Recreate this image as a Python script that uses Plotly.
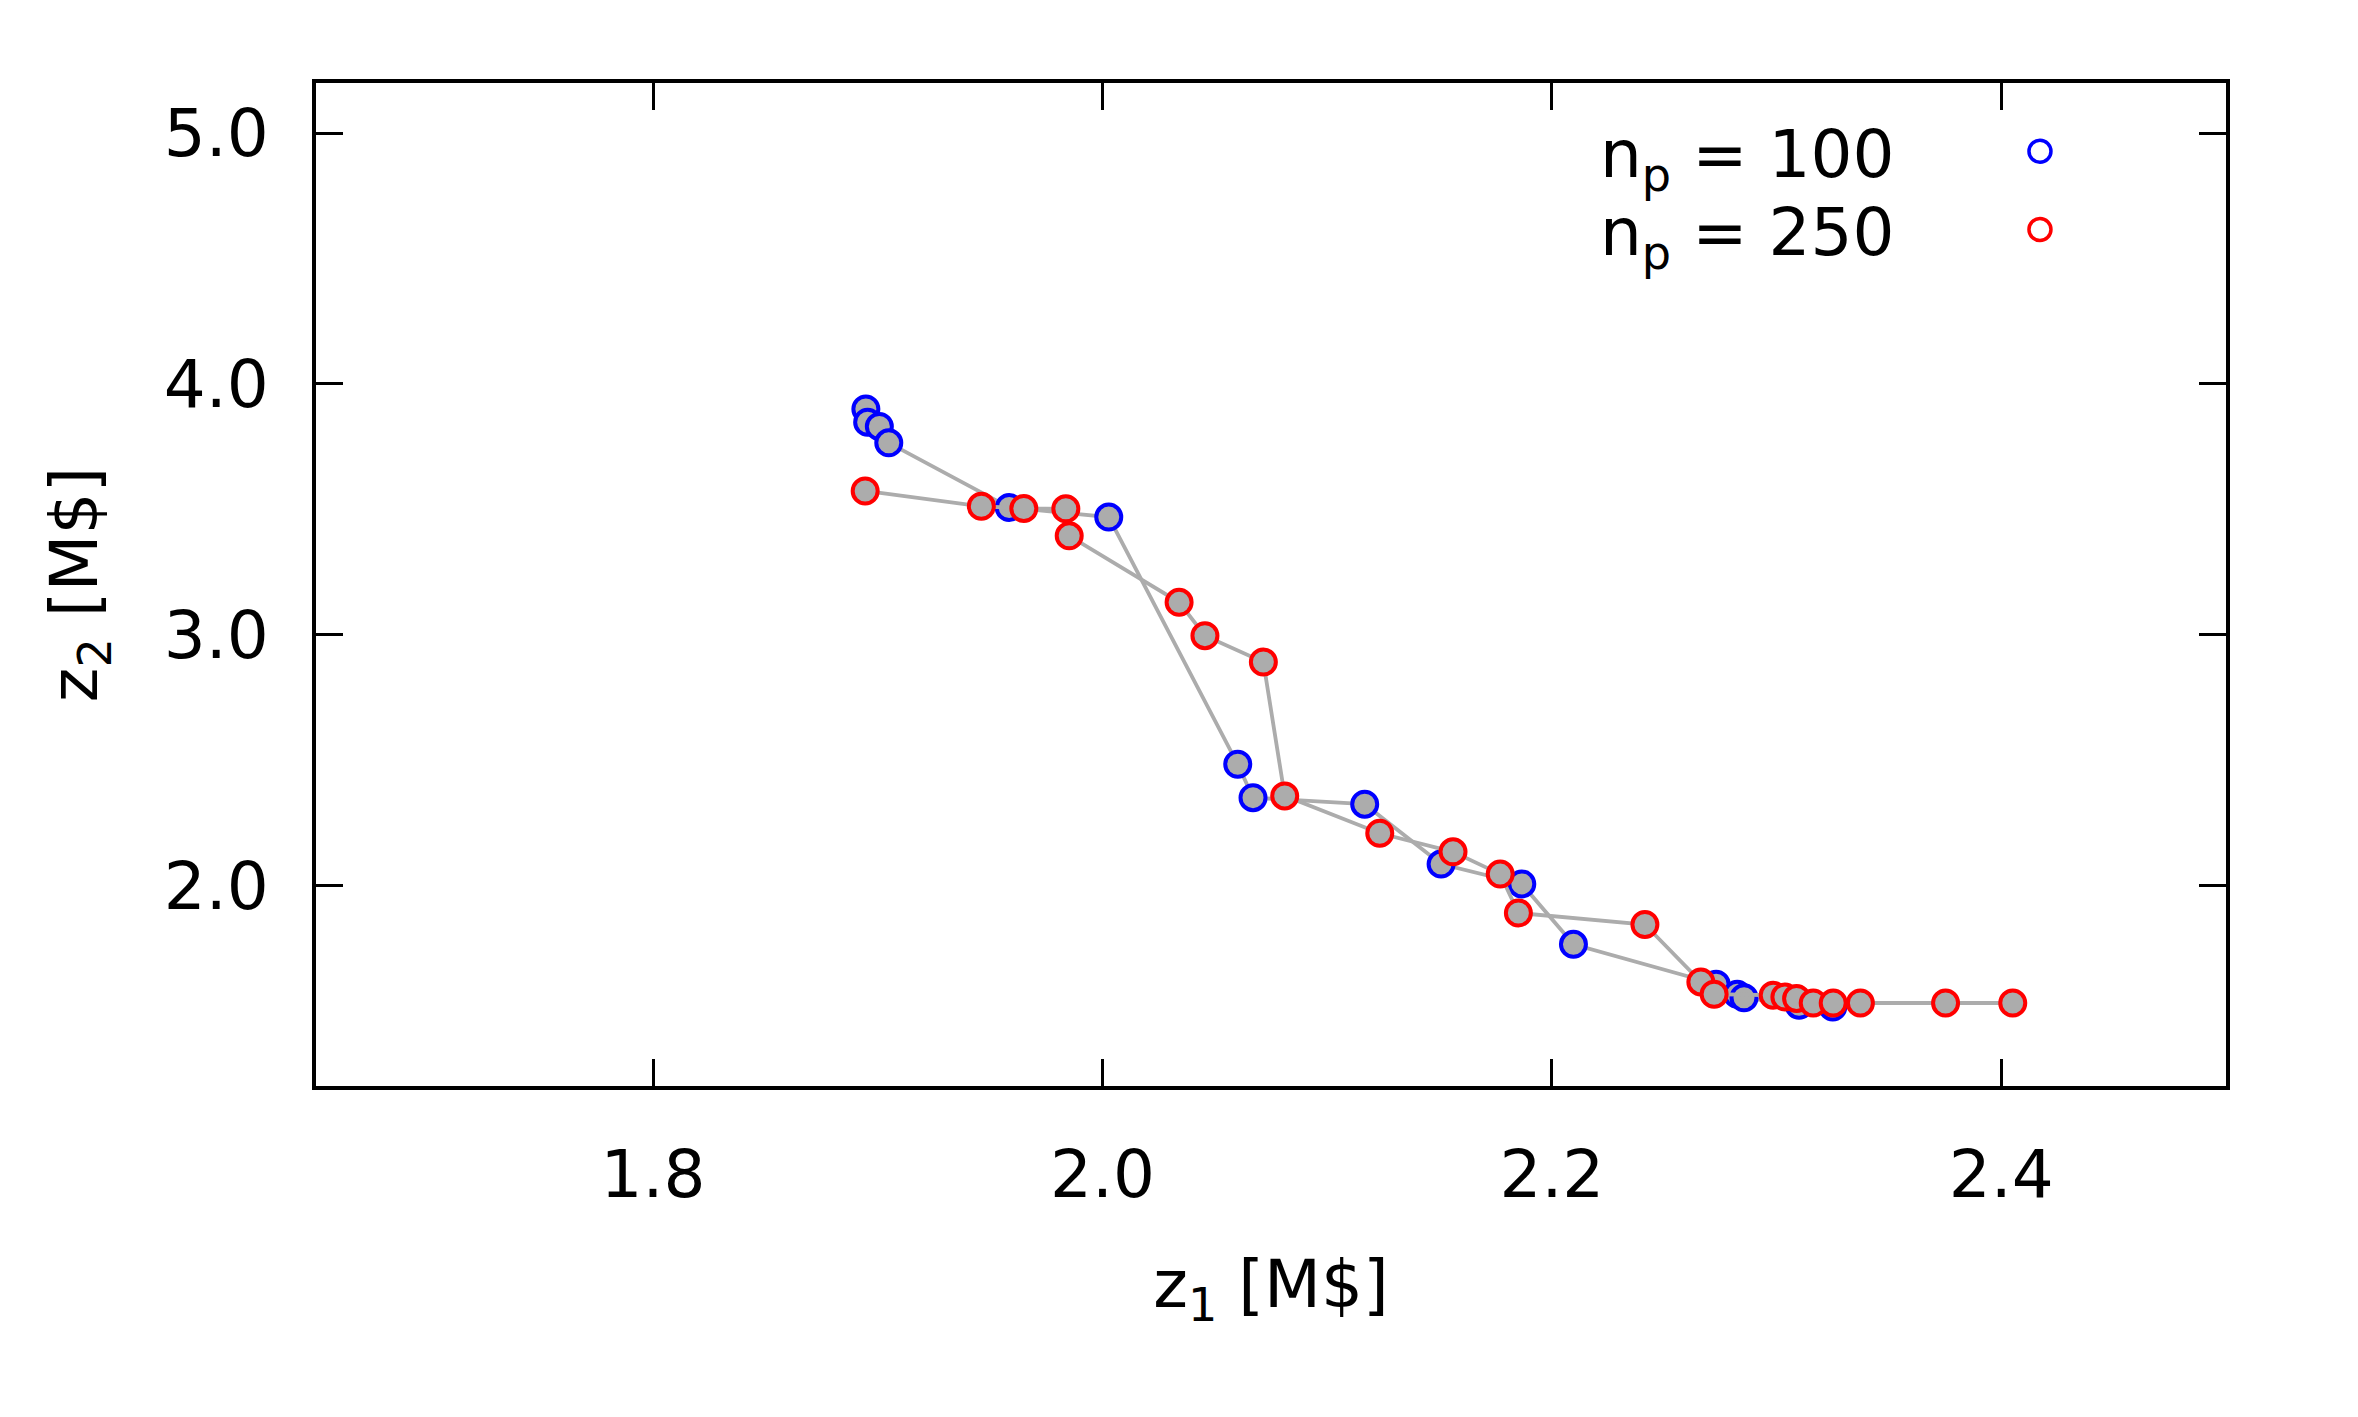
import plotly.graph_objects as go

# ---- data ----
blue_name = "n<sub>p</sub> = 100"
blue_x = [1.8947, 1.8955, 1.9007, 1.9049, 1.9585, 2.0028, 2.0602, 2.0670, 2.1167,
          2.1507, 2.1866, 2.2096, 2.2731, 2.2825, 2.2855, 2.3100, 2.3250]
blue_y = [3.900, 3.847, 3.830, 3.765, 3.507, 3.469, 2.483, 2.350, 2.324,
          2.085, 2.006, 1.765, 1.606, 1.566, 1.552, 1.522, 1.515]

red_name = "n<sub>p</sub> = 250"
red_x = [1.8944, 1.9461, 1.9650, 1.9837, 1.9852, 2.0341, 2.0456, 2.0716, 2.0811,
         2.1234, 2.1560, 2.1770, 2.1851, 2.2414, 2.2663, 2.2722, 2.2985, 2.3037,
         2.3089, 2.3163, 2.3252, 2.3373, 2.3752, 2.4051]
red_y = [3.573, 3.512, 3.503, 3.502, 3.394, 3.129, 2.996, 2.891, 2.357,
         2.208, 2.134, 2.045, 1.890, 1.844, 1.615, 1.566, 1.562, 1.555,
         1.549, 1.531, 1.531, 1.531, 1.531, 1.531]

x_tickvals = [1.8, 2.0, 2.2, 2.4]
x_ticktext = ["1.8", "2.0", "2.2", "2.4"]
y_tickvals = [2.0, 3.0, 4.0, 5.0]
y_ticktext = ["2.0", "3.0", "4.0", "5.0"]
x_range = [1.65, 2.5]
y_range = [1.2, 5.2]
x_title = "z<sub>1</sub> [M$]"
y_title = "z<sub>2</sub> [M$]"

# ---- style ----
FONT = "DejaVu Sans"
FS = 66
GRAY = "#acacac"
W, H = 2358, 1417

fig = go.Figure()
for xs, ys, col, name in [(blue_x, blue_y, "#0000ff", blue_name),
                          (red_x, red_y, "#ff0000", red_name)]:
    fig.add_trace(go.Scatter(
        x=xs, y=ys, mode="lines+markers", name=name, showlegend=False,
        line=dict(color=GRAY, width=3.8),
        marker=dict(symbol="circle", size=25, color=GRAY,
                    line=dict(color=col, width=4)),
        cliponaxis=False,
    ))

axis_common = dict(
    showgrid=False, zeroline=False, showline=True, linecolor="black", linewidth=4,
    mirror="allticks", ticks="inside", ticklen=27, tickwidth=3, tickcolor="black",
    tickfont=dict(family=FONT, size=FS, color="black"),
)
fig.update_xaxes(range=x_range, tickvals=x_tickvals, ticktext=x_ticktext,
                 ticklabelstandoff=28,
                 title=dict(text=x_title, font=dict(family=FONT, size=FS, color="black"),
                            standoff=50),
                 **axis_common)
fig.update_yaxes(range=y_range, tickvals=y_tickvals, ticktext=y_ticktext,
                 ticklabelstandoff=30,
                 title=dict(text=y_title, font=dict(family=FONT, size=FS, color="black"),
                            standoff=46),
                 **axis_common)

# legend drawn gnuplot-style: text on the left, symbol on the right
legend_rows = [(blue_name, "#0000ff", 0.924, 0.932), (red_name, "#ff0000", 0.846, 0.854)]
for name, col, yp, ys in legend_rows:
    fig.add_annotation(xref="paper", yref="paper", x=0.827, y=yp, text=name,
                       showarrow=False, xanchor="right", yanchor="middle",
                       font=dict(family=FONT, size=FS, color="black"))
    fig.add_shape(type="circle", xref="paper", yref="paper",
                  xsizemode="pixel", ysizemode="pixel",
                  xanchor=0.9026, yanchor=ys,
                  x0=-11, x1=11, y0=-11, y1=11,
                  line=dict(color=col, width=3.5), fillcolor="rgba(0,0,0,0)")

fig.update_layout(
    width=W, height=H,
    margin=dict(l=308, r=140, t=75, b=339, autoexpand=False),
    paper_bgcolor="white", plot_bgcolor="white",
    font=dict(family=FONT, size=FS, color="black"),
)

fig.write_html("out.html")
